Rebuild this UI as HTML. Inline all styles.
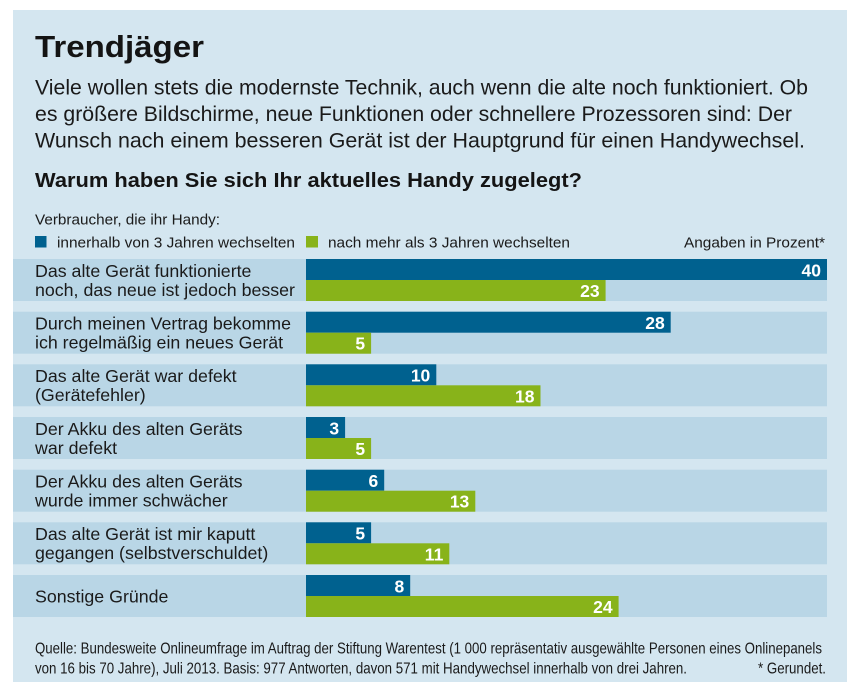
<!DOCTYPE html>
<html>
<head>
<meta charset="utf-8">
<style>
  html,body{margin:0;padding:0;background:#ffffff;}
  svg{display:block;}
  text{font-family:"Liberation Sans", Arial, sans-serif;}
</style>
</head>
<body>
<svg width="858" height="691" viewBox="0 0 858 691" xmlns="http://www.w3.org/2000/svg">
  <rect x="0" y="0" width="858" height="691" fill="#ffffff"/>
  <rect x="13" y="10" width="834" height="672" fill="#d4e6f0"/>

  <!-- Title -->
  <text x="35" y="57" font-size="31" font-weight="bold" fill="#141414" textLength="169" lengthAdjust="spacingAndGlyphs">Trendjäger</text>

  <!-- Intro -->
  <g font-size="21.5" fill="#1a1a1a">
    <text x="35" y="94.5" textLength="773" lengthAdjust="spacingAndGlyphs">Viele wollen stets die modernste Technik, auch wenn die alte noch funktioniert. Ob</text>
    <text x="35" y="121" textLength="757" lengthAdjust="spacingAndGlyphs">es größere Bildschirme, neue Funktionen oder schnellere Prozessoren sind: Der</text>
    <text x="35" y="147.5" textLength="770" lengthAdjust="spacingAndGlyphs">Wunsch nach einem besseren Gerät ist der Hauptgrund für einen Handywechsel.</text>
  </g>

  <!-- Question -->
  <text x="35" y="187" font-size="20" font-weight="bold" fill="#141414" textLength="547" lengthAdjust="spacingAndGlyphs">Warum haben Sie sich Ihr aktuelles Handy zugelegt?</text>

  <!-- Legend -->
  <g font-size="15.2" fill="#1a1a1a">
    <text x="35" y="224.5" textLength="185" lengthAdjust="spacingAndGlyphs">Verbraucher, die ihr Handy:</text>
    <rect x="35" y="236" width="11.5" height="11.5" fill="#00618f"/>
    <text x="57" y="247.5" textLength="238" lengthAdjust="spacingAndGlyphs">innerhalb von 3 Jahren wechselten</text>
    <rect x="306" y="236" width="12" height="11.5" fill="#88b31a"/>
    <text x="328" y="247.5" textLength="242" lengthAdjust="spacingAndGlyphs">nach mehr als 3 Jahren wechselten</text>
    <text x="684" y="247.5" textLength="141" lengthAdjust="spacingAndGlyphs">Angaben in Prozent*</text>
  </g>

  <!-- Stripes -->
  <g fill="#b9d6e6">
    <rect x="13" y="259" width="814" height="42"/>
    <rect x="13" y="311.7" width="814" height="42"/>
    <rect x="13" y="364.3" width="814" height="42"/>
    <rect x="13" y="417" width="814" height="42"/>
    <rect x="13" y="469.7" width="814" height="42"/>
    <rect x="13" y="522.3" width="814" height="42"/>
    <rect x="13" y="575" width="814" height="42"/>
  </g>

  <!-- Blue bars -->
  <g fill="#00618f">
    <rect x="306" y="259" width="521" height="21"/>
    <rect x="306" y="311.7" width="364.7" height="21"/>
    <rect x="306" y="364.3" width="130.3" height="21"/>
    <rect x="306" y="417" width="39.1" height="21"/>
    <rect x="306" y="469.7" width="78.2" height="21"/>
    <rect x="306" y="522.3" width="65.1" height="21"/>
    <rect x="306" y="575" width="104.2" height="21"/>
  </g>
  <!-- Green bars -->
  <g fill="#88b31a">
    <rect x="306" y="280" width="299.6" height="21"/>
    <rect x="306" y="332.7" width="65.1" height="21"/>
    <rect x="306" y="385.3" width="234.5" height="21"/>
    <rect x="306" y="438" width="65.1" height="21"/>
    <rect x="306" y="490.7" width="169.3" height="21"/>
    <rect x="306" y="543.3" width="143.3" height="21"/>
    <rect x="306" y="596" width="312.6" height="21"/>
  </g>

  <!-- Value labels -->
  <g font-size="17.5" font-weight="bold" fill="#ffffff" text-anchor="end">
    <text x="821" y="276.3">40</text>
    <text x="599.6" y="297">23</text>
    <text x="664.7" y="329">28</text>
    <text x="365.1" y="349.7">5</text>
    <text x="430.3" y="381.6">10</text>
    <text x="534.5" y="402.3">18</text>
    <text x="339.1" y="434.3">3</text>
    <text x="365.1" y="455">5</text>
    <text x="378.2" y="487">6</text>
    <text x="469.3" y="507.7">13</text>
    <text x="365.1" y="539.6">5</text>
    <text x="443.3" y="560.3">11</text>
    <text x="404.2" y="592.3">8</text>
    <text x="612.6" y="613">24</text>
  </g>

  <!-- Row labels -->
  <g font-size="17.8" fill="#1a1a1a">
    <text x="35" y="277">Das alte Gerät funktionierte</text>
    <text x="35" y="296">noch, das neue ist jedoch besser</text>

    <text x="35" y="329.5">Durch meinen Vertrag bekomme</text>
    <text x="35" y="348.5">ich regelmäßig ein neues Gerät</text>

    <text x="35" y="382.1">Das alte Gerät war defekt</text>
    <text x="35" y="401.1">(Gerätefehler)</text>

    <text x="35" y="434.8">Der Akku des alten Geräts</text>
    <text x="35" y="453.8">war defekt</text>

    <text x="35" y="487.5">Der Akku des alten Geräts</text>
    <text x="35" y="506.5">wurde immer schwächer</text>

    <text x="35" y="540.1">Das alte Gerät ist mir kaputt</text>
    <text x="35" y="559.1">gegangen (selbstverschuldet)</text>

    <text x="35" y="602.3">Sonstige Gründe</text>
  </g>

  <!-- Footer -->
  <g font-size="16" fill="#1a1a1a">
    <text x="35" y="653.3" textLength="787" lengthAdjust="spacingAndGlyphs">Quelle: Bundesweite Onlineumfrage im Auftrag der Stiftung Warentest (1 000 repräsentativ ausgewählte Personen eines Onlinepanels</text>
    <text x="35" y="673.3" textLength="652" lengthAdjust="spacingAndGlyphs">von 16 bis 70 Jahre), Juli 2013. Basis: 977 Antworten, davon 571 mit Handywechsel innerhalb von drei Jahren.</text>
    <text x="758" y="673.3" textLength="68" lengthAdjust="spacingAndGlyphs">* Gerundet.</text>
  </g>
</svg>
</body>
</html>
